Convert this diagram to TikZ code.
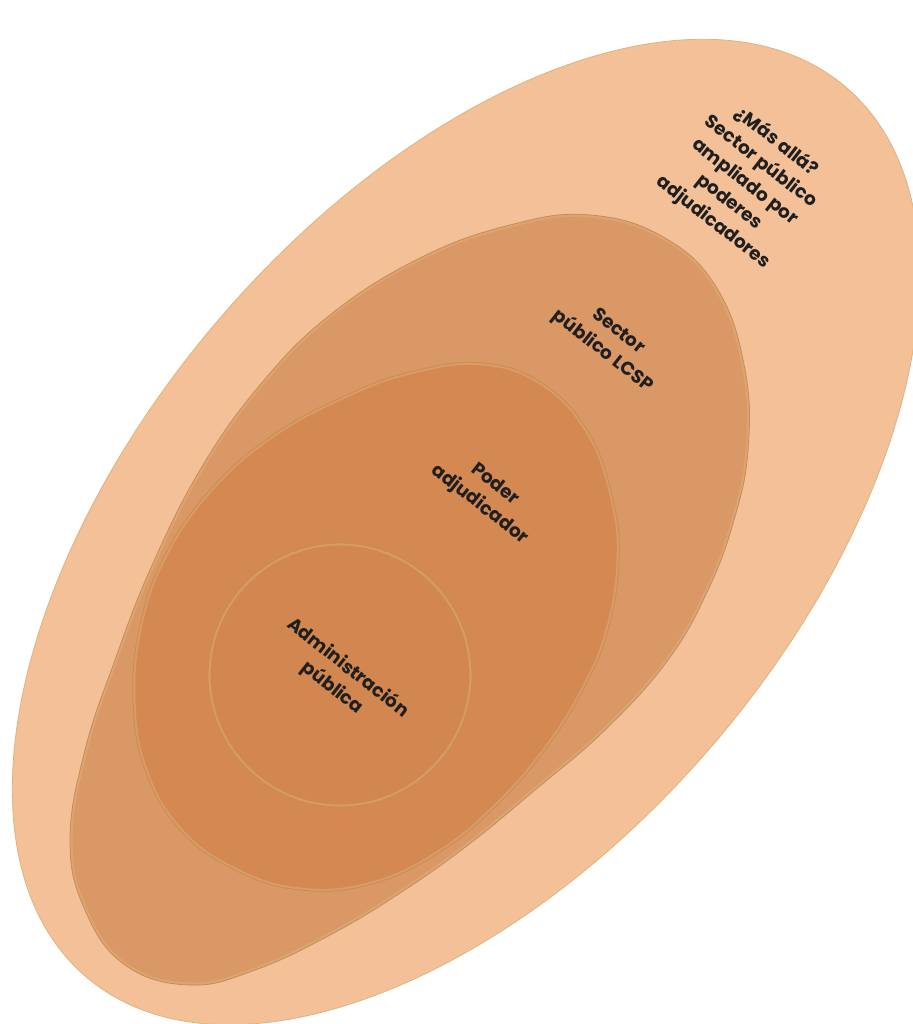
\documentclass[tikz,border=0pt]{standalone}
\usepackage{fontspec}
\setmainfont{Poppins}
\definecolor{outerfill}{HTML}{F3C098}
\definecolor{sectorfill}{HTML}{DB9867}
\definecolor{poderfill}{HTML}{D48852}
\definecolor{adminfill}{HTML}{D38750}
\definecolor{rim}{HTML}{C98B5A}
\definecolor{glow}{HTML}{DDB57C}
\tikzset{
  region/.style={draw=rim, line width=0.8pt},
  innerglow/.style={draw=glow, line width=5pt, opacity=0.45},
  label/.style={font=\bfseries\fontsize{18.5}{25.5}\selectfont, align=center, rotate=-38, text=black!88, inner sep=0pt}
}
\def\sectorpts{(590,215) (665,238) (718,290) (745,370) (748,450) (734,520) (708,590) (668,660)
 (605,730) (535,790) (468,845) (400,893) (330,935) (255,970) (190,985) (125,965) (85,910)
 (70,840) (85,750) (115,660) (150,570) (200,470) (260,385) (330,315) (420,258) (510,225)}
\def\poderpts{(483,363) (545,385) (590,435) (613,500) (619,560) (608,630) (583,690) (545,750)
 (497,805) (440,852) (372,884) (300,890) (235,870) (180,830) (145,770) (133,700)
 (140,625) (165,555) (210,490) (270,437) (340,398) (410,372)}
\begin{document}
\begin{tikzpicture}[x=1pt,y=-1pt]
\useasboundingbox (0,0) rectangle (912,1024);
% outer ellipse
\path[region, fill=outerfill, draw=glow] (466,532) ellipse [x radius=585, y radius=326, rotate=49.5];
% sector publico LCSP
\path[fill=sectorfill] plot[smooth cycle, tension=0.7] coordinates {\sectorpts};
\begin{scope}
  \clip plot[smooth cycle, tension=0.7] coordinates {\sectorpts};
  \path[innerglow] plot[smooth cycle, tension=0.7] coordinates {\sectorpts};
\end{scope}
\path[region] plot[smooth cycle, tension=0.7] coordinates {\sectorpts};
% poder adjudicador
\path[fill=poderfill] plot[smooth cycle, tension=0.7] coordinates {\poderpts};
\begin{scope}
  \clip plot[smooth cycle, tension=0.7] coordinates {\poderpts};
  \path[innerglow] plot[smooth cycle, tension=0.7] coordinates {\poderpts};
\end{scope}
\path[region] plot[smooth cycle, tension=0.7] coordinates {\poderpts};
% administracion publica
\path[fill=adminfill] (340,675) circle [radius=132];
\begin{scope}
  \clip (340,675) circle [radius=132];
  \path[innerglow] (340,675) circle [radius=132];
\end{scope}
\path[region] (340,675) circle [radius=132];
% labels
\node[label] (mas) at (745,182) {¿Más allá?\\Sector público\\ampliado por\\poderes\\adjudicadores};
\node[label] (sector) at (610,342) {Sector\\público LCSP};
\node[label] (poder) at (487,495) {Poder\\adjudicador};
\node[label] (admin) at (340,678) {Administración\\pública};
\end{tikzpicture}
\end{document}
